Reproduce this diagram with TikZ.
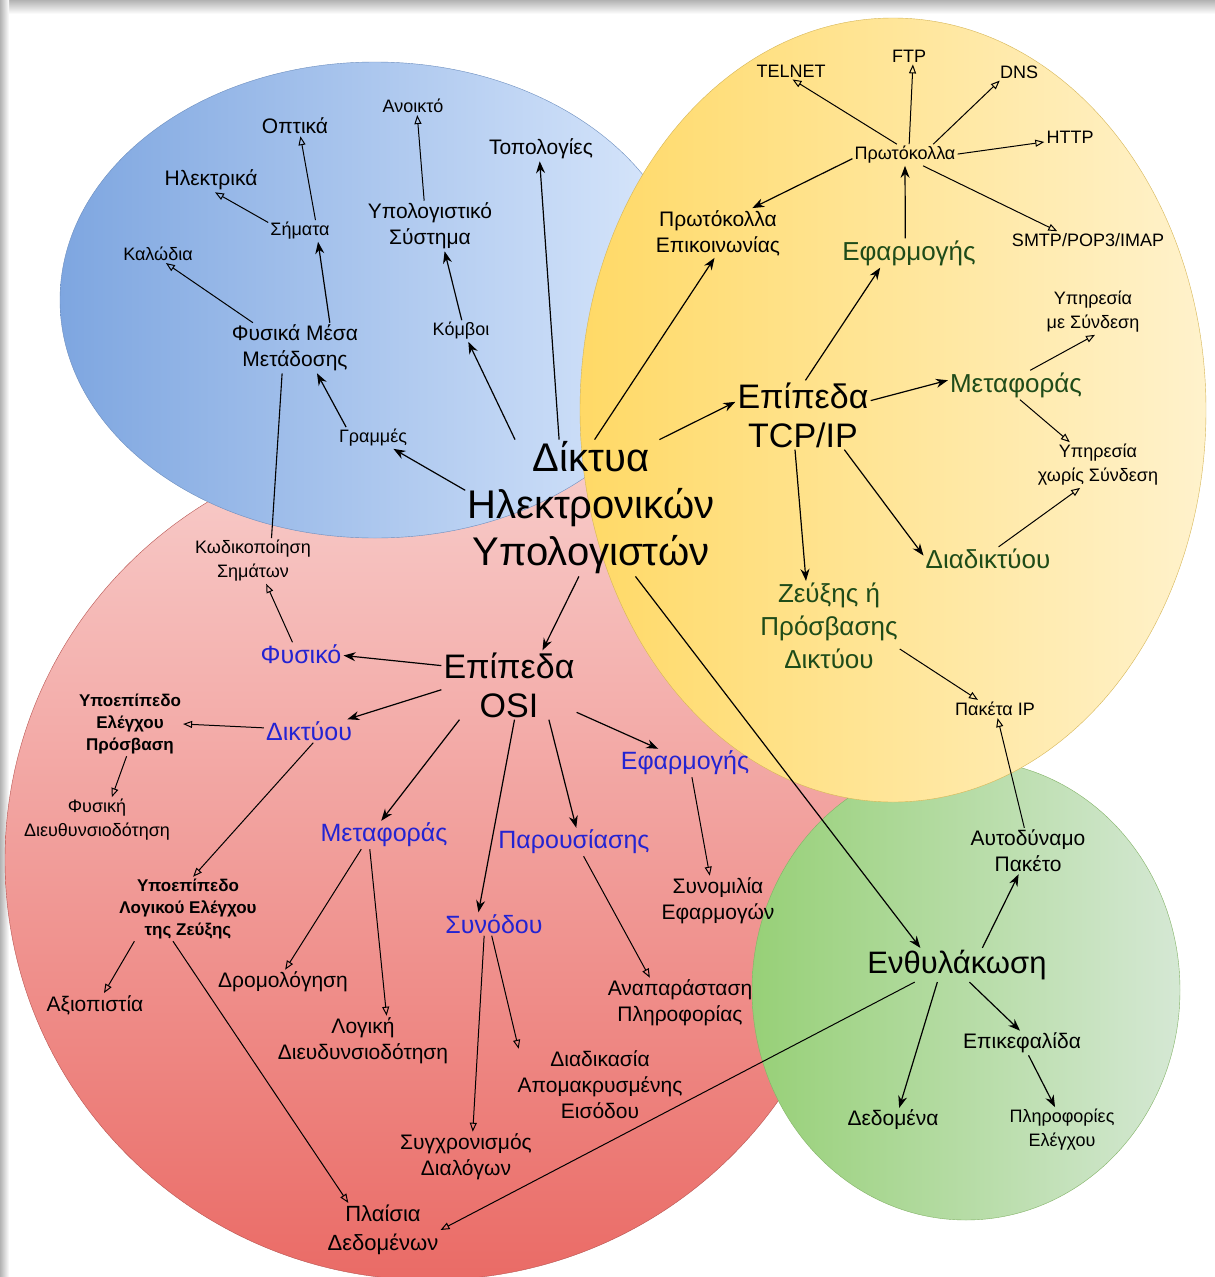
\documentclass[tikz,border=0pt]{standalone}
\usepackage{fontspec}
\setmainfont{Liberation Sans}
\usetikzlibrary{arrows.meta}
\definecolor{blueD}{HTML}{7EA6E0}
\definecolor{blueL}{HTML}{DAE8FC}
\definecolor{blueS}{HTML}{6C8EBF}
\definecolor{yelD}{HTML}{FFD966}
\definecolor{yelL}{HTML}{FFF2CC}
\definecolor{yelS}{HTML}{D6B656}
\definecolor{redL}{HTML}{F8CECC}
\definecolor{redD}{HTML}{EA6B66}
\definecolor{redS}{HTML}{B85450}
\definecolor{grnD}{HTML}{97D077}
\definecolor{grnL}{HTML}{D5E8D4}
\definecolor{grnS}{HTML}{82B366}
\definecolor{osiblue}{RGB}{35,35,210}
\definecolor{tcpgreen}{RGB}{30,75,25}
\begin{document}
\begin{tikzpicture}[x=1pt,y=-1pt,
  lbl/.style={align=center,inner sep=2pt,text=black},
  hugef/.style={lbl,font=\fontsize{40}{47}\selectfont},
  bigf/.style={lbl,font=\fontsize{34}{39}\selectfont},
  enthf/.style={lbl,font=\fontsize{31}{36}\selectfont},
  layerg/.style={lbl,text=tcpgreen,font=\fontsize{26}{33}\selectfont},
  layerb/.style={lbl,text=osiblue,font=\fontsize{25}{30}\selectfont},
  medf/.style={lbl,font=\fontsize{21}{26}\selectfont},
  plf/.style={lbl,font=\fontsize{22}{29}\selectfont},
  smallf/.style={lbl,font=\fontsize{18}{24}\selectfont},
  boldf/.style={lbl,font=\fontsize{17}{22}\selectfont\bfseries},
  fa/.style={-{Stealth[length=12pt,width=9pt]},line width=1.2pt},
  oa/.style={-{Triangle[open,length=9pt,width=7pt]},line width=1pt},
  ln/.style={line width=1.1pt}]
\useasboundingbox (0,0) rectangle (1215,1277);
\fill[white] (0,0) rectangle (1215,1277);
\shade[top color=black!30, bottom color=white] (0,0) rectangle (1215,14);
\shade[left color=black!30, right color=white] (0,0) rectangle (9,1277);

% regions
\draw[draw=redS, top color=redL, bottom color=redD] (430,860) ellipse [x radius=425, y radius=420];
\draw[draw=blueS, left color=blueD, right color=blueL] (375,300) ellipse [x radius=315, y radius=238];
\draw[draw=grnS, left color=grnD, right color=grnL] (966,990) ellipse [x radius=214, y radius=230];
\draw[draw=yelS, left color=yelD, right color=yelL] (893,410) ellipse [x radius=313, y radius=392];

% central
\node[hugef] (dik) at (591,508) {Δίκτυα\\Ηλεκτρονικών\\Υπολογιστών};

% blue
\node[medf] (topo) at (541,149) {Τοπολογίες};
\node[medf] (opt) at (295,126) {Οπτικά};
\node[smallf] (anoi) at (413,106) {Ανοικτό};
\node[medf] (ilek) at (211,180) {Ηλεκτρικά};
\node[smallf] (sim) at (300,231) {Σήματα};
\node[medf] (ypo) at (430,226) {Υπολογιστικό\\Σύστημα};
\node[smallf] (kal) at (158,254) {Καλώδια};
\node[medf] (fmm) at (295,348) {Φυσικά Μέσα\\Μετάδοσης};
\node[smallf] (komv) at (461,331) {Κόμβοι};
\node[smallf] (gram) at (373,438) {Γραμμές};

% red
\node[smallf] (kod) at (253,561) {Κωδικοποίηση\\Σημάτων};
\node[bigf] (osi) at (509,685) {Επίπεδα\\OSI};
\node[layerb] (fys) at (301,654) {Φυσικό};
\node[boldf] (yep) at (130,724) {Υποεπίπεδο\\Ελέγχου\\Πρόσβαση};
\node[layerb] (dikt) at (309,731) {Δικτύου};
\node[layerb] (efa) at (685,763) {Εφαρμογής};
\node[smallf] (fdi) at (97,820) {Φυσική\\Διευθυνσιοδότηση};
\node[layerb] (meta) at (384,835) {Μεταφοράς};
\node[layerb] (par) at (574,842) {Παρουσίασης};
\node[boldf] (yle) at (188,909) {Υποεπίπεδο\\Λογικού Ελέγχου\\της Ζεύξης};
\node[layerb] (syn) at (494,924) {Συνόδου};
\node[medf] (syno) at (718,901) {Συνομιλία\\Εφαρμογών};
\node[medf] (axi) at (95,1005) {Αξιοπιστία};
\node[medf] (drom) at (283,982) {Δρομολόγηση};
\node[medf] (anap) at (680,1003) {Αναπαράσταση\\Πληροφορίας};
\node[medf] (logi) at (363,1041) {Λογική\\Διευδυνσιοδότηση};
\node[medf] (diad) at (600,1085) {Διαδικασία\\Απομακρυσμένης\\Εισόδου};
\node[medf] (sygx) at (466,1157) {Συγχρονισμός\\Διαλόγων};
\node[plf] (plai) at (383,1230) {Πλαίσια\\Δεδομένων};

% yellow
\node[medf] (pep) at (718,233) {Πρωτόκολλα\\Επικοινωνίας};
\node[smallf] (tel) at (791,71) {TELNET};
\node[smallf] (ftp) at (909,56) {FTP};
\node[smallf] (dns) at (1019,72) {DNS};
\node[smallf] (http) at (1070,137) {HTTP};
\node[smallf] (prot) at (905,155) {Πρωτόκολλα};
\node[smallf] (smtp) at (1088,240) {SMTP/POP3/IMAP};
\node[layerg] (gef) at (909,253) {Εφαρμογής};
\node[smallf] (yms) at (1093,312) {Υπηρεσία\\με Σύνδεση};
\node[bigf] (tcp) at (803,415) {Επίπεδα\\TCP/IP};
\node[layerg] (gmet) at (1016,385) {Μεταφοράς};
\node[smallf] (yxs) at (1098,465) {Υπηρεσία\\χωρίς Σύνδεση};
\node[layerg] (gdia) at (988,559) {Διαδικτύου};
\node[layerg] (zeux) at (829,626) {Ζεύξης ή\\Πρόσβασης\\Δικτύου};
\node[smallf] (pip) at (995,709) {Πακέτα IP};

% green
\node[enthf] (enth) at (957,965) {Ενθυλάκωση};
\node[medf] (auto) at (1028,851) {Αυτοδύναμο\\Πακέτο};
\node[medf] (epik) at (1022,1043) {Επικεφαλίδα};
\node[medf] (dedo) at (893,1120) {Δεδομένα};
\node[smallf] (plir) at (1062,1130) {Πληροφορίες\\Ελέγχου};

% connectors: blue
\draw[fa] (dik.172) -- (gram.-28);
\draw[fa] (dik.138) -- (komv.-56);
\draw[fa] (dik.115) -- (topo.-96);
\draw[fa] (gram.158) -- (fmm.-49);
\draw[oa] (fmm.149) -- (kal.-49);
\draw[fa] (fmm.36) -- (sim.-31);
\draw[oa] (sim.165) -- (ilek.-72);
\draw[oa] (sim.35) -- (opt.-62);
\draw[fa] (komv.86) -- (ypo.-60);
\draw[oa] (ypo.103) -- (anoi.-65);
\draw[ln] (fmm.-117) -- (kod.51);

% connectors: OSI
\draw[fa] (dik.-100) -- (osi.46);
\draw[fa] (osi.164) -- (fys.-2);
\draw[oa] (fys.126) -- (kod.-60);
\draw[fa] (osi.-176) -- (dikt.17);
\draw[oa] (dikt.176) -- (yep.0);
\draw[oa] (yep.-96) -- (fdi.57);
\draw[oa] (dikt.-70) -- (yle.81);
\draw[oa] (yle.-149) -- (axi.53);
\draw[oa] (yle.-115) -- (plai.142);
\draw[fa] (osi.-145) -- (meta.101);
\draw[oa] (meta.-148) -- (drom.80);
\draw[oa] (meta.-135) -- (logi.47);
\draw[fa] (osi.-81) -- (syn.143);
\draw[oa] (syn.-130) -- (sygx.75);
\draw[oa] (syn.-101) -- (diad.156);
\draw[fa] (osi.-41) -- (par.81);
\draw[oa] (par.-56) -- (anap.140);
\draw[fa] (osi.-22) -- (efa.152);
\draw[oa] (efa.-64) -- (syno.108);

% connectors: TCP/IP
\draw[fa] (dik.87) -- (pep.-98);
\draw[fa] (dik.45) -- (tcp.169);
\draw[fa] (tcp.86) -- (gef.-153);
\draw[fa] (gef.104) -- (prot.-90);
\draw[fa] (prot.-176) -- (pep.36);
\draw[oa] (prot.127) -- (tel.-80);
\draw[oa] (prot.69) -- (ftp.-65);
\draw[oa] (prot.21) -- (dns.-156);
\draw[oa] (prot.1) -- (http.-169);
\draw[oa] (prot.-31) -- (smtp.164);
\draw[fa] (tcp.12) -- (gmet.176);
\draw[oa] (gmet.46) -- (yms.-85);
\draw[oa] (gmet.-75) -- (yxs.141);
\draw[fa] (tcp.-103) -- (zeux.117);
\draw[fa] (tcp.-40) -- (gdia.177);
\draw[oa] (gdia.49) -- (yxs.-128);
\draw[oa] (zeux.-18) -- (pip.152);

% connectors: encapsulation
\draw[fa] (dik.-57) -- (enth.155);
\draw[fa] (enth.34) -- (auto.-112);
\draw[oa] (auto.99) -- (pip.-74);
\draw[fa] (enth.-139) -- (dedo.63);
\draw[fa] (enth.-54) -- (epik.99);
\draw[fa] (epik.-62) -- (plir.107);
\draw[oa] (enth.-158) -- (plai.0);
\end{tikzpicture}
\end{document}
